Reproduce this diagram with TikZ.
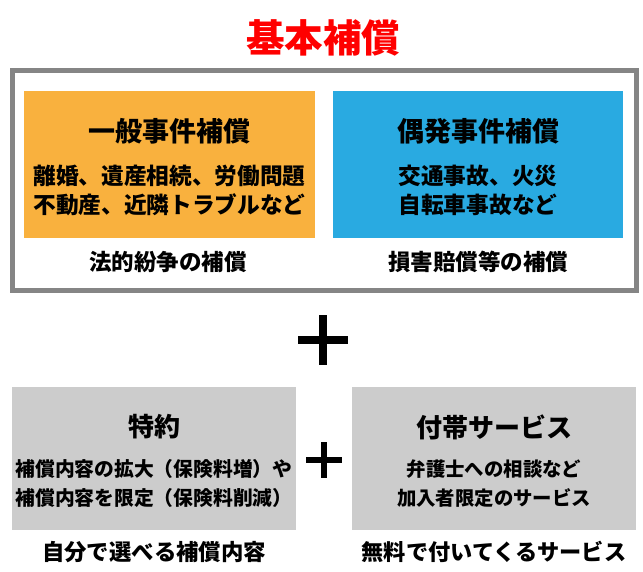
\documentclass[tikz,border=0pt]{standalone}
\usepackage{fontspec}
\newfontfamily\cjk{Noto Sans CJK JP}
\definecolor{myred}{HTML}{FF0000}
\definecolor{myorange}{HTML}{F9B13E}
\definecolor{myblue}{HTML}{29AAE1}
\definecolor{myframe}{HTML}{858585}
\definecolor{mygray}{HTML}{CCCCCC}
\tikzset{
  colbox/.style={inner sep=0pt, outer sep=0pt},
  jtxt/.style={font=\cjk\bfseries, inner sep=0pt, align=center, text=black},
  plusbar/.style={fill=black, draw=none},
}
\begin{document}
\begin{tikzpicture}[x=1pt,y=-1pt]
\useasboundingbox[fill=white] (0,0) rectangle (643,571);
% title
\node[jtxt, text=myred, font=\cjk\bfseries\fontsize{38.5}{40}\selectfont] (title) at (323,38) {基本補償};
% outer frame
\draw[myframe, line width=5pt] (12.5,70.5) rectangle (636.5,290.5);
\coordinate (frame) at (324,180);
% orange and blue boxes
\fill[myorange] (24,91) rectangle (315,238);
\fill[myblue] (333,91) rectangle (623,238);
\node[colbox] (obox) at (169.5,164.5) {};
\node[colbox] (bbox) at (478,164.5) {};
\node[jtxt, font=\cjk\bfseries\fontsize{27}{30}\selectfont] (ot) at (169.5,131) {一般事件補償};
\node[jtxt, font=\cjk\bfseries\fontsize{22.7}{29}\selectfont] (ob) at (169.5,190.5) {離婚、遺産相続、労働問題\\不動産、近隣トラブルなど};
\node[jtxt, font=\cjk\bfseries\fontsize{27}{30}\selectfont] (bt) at (478,131) {偶発事件補償};
\node[jtxt, font=\cjk\bfseries\fontsize{22.7}{29}\selectfont] (bb) at (478,190.5) {交通事故、火災\\自転車事故など};
\node[jtxt, font=\cjk\bfseries\fontsize{22.5}{24}\selectfont] (ol) at (168,262) {法的紛争の補償};
\node[jtxt, font=\cjk\bfseries\fontsize{22.5}{24}\selectfont] (bl) at (478,262) {損害賠償等の補償};
% big plus
\fill[plusbar] (298,336) rectangle (348,344);
\fill[plusbar] (319,315) rectangle (327,365);
\coordinate (bigplus) at (323,340);
% gray boxes
\fill[mygray] (12,387) rectangle (296,530);
\fill[mygray] (352,387) rectangle (636,530);
\node[jtxt, font=\cjk\bfseries\fontsize{26}{30}\selectfont] (gt1) at (154,427) {特約};
\node[jtxt, font=\cjk\bfseries\fontsize{19.8}{29}\selectfont] (gb1) at (154,483.5) {補償内容の拡大（保険料増）や\\補償内容を限定（保険料削減）};
\node[jtxt, font=\cjk\bfseries\fontsize{26}{30}\selectfont] (gt2) at (494,427) {付帯サービス};
\node[jtxt, font=\cjk\bfseries\fontsize{19.4}{29}\selectfont] (gb2) at (494,483.5) {弁護士への相談など\\加入者限定のサービス};
% small plus
\fill[plusbar] (306,457) rectangle (342,463);
\fill[plusbar] (321,442) rectangle (327,478);
% bottom labels
\node[jtxt, font=\cjk\bfseries\fontsize{22.4}{24}\selectfont] (l1) at (154,552) {自分で選べる補償内容};
\node[jtxt, font=\cjk\bfseries\fontsize{22.2}{24}\selectfont] (l2) at (494,552) {無料で付いてくるサービス};
\end{tikzpicture}
\end{document}
